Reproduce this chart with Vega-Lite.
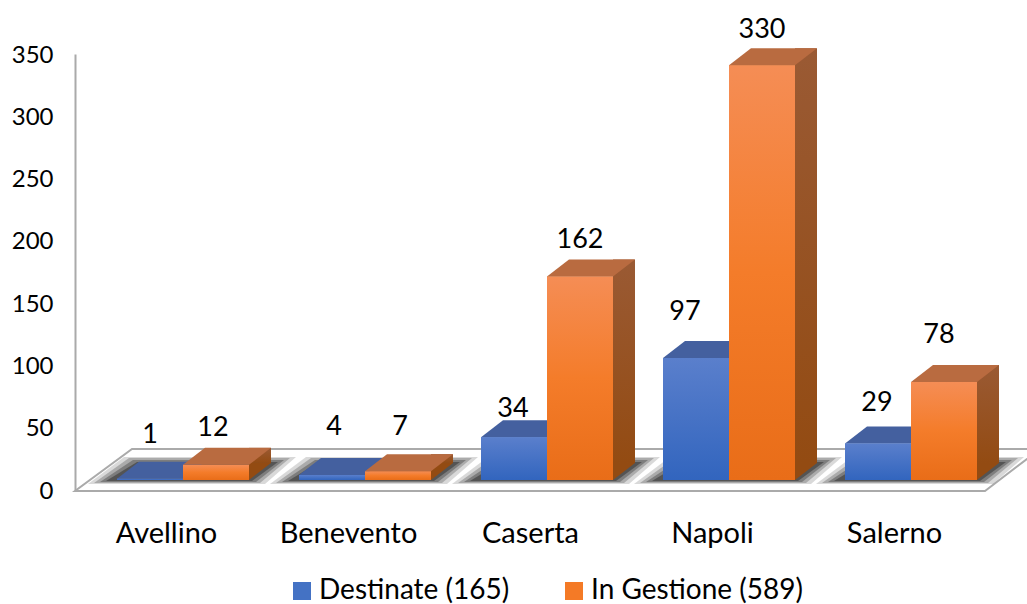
{"$schema":"https://vega.github.io/schema/vega-lite/v6.json","width":910,"height":436,"autosize":"none","padding":{"left":75,"top":54,"right":42,"bottom":114},"background":"white","config":{"view":{"stroke":null},"font":"Lato"},"data":{"values":[{"provincia":"Avellino","serie":"Destinate (165)","valore":1},{"provincia":"Avellino","serie":"In Gestione (589)","valore":12},{"provincia":"Benevento","serie":"Destinate (165)","valore":4},{"provincia":"Benevento","serie":"In Gestione (589)","valore":7},{"provincia":"Caserta","serie":"Destinate (165)","valore":34},{"provincia":"Caserta","serie":"In Gestione (589)","valore":162},{"provincia":"Napoli","serie":"Destinate (165)","valore":97},{"provincia":"Napoli","serie":"In Gestione (589)","valore":330},{"provincia":"Salerno","serie":"Destinate (165)","valore":29},{"provincia":"Salerno","serie":"In Gestione (589)","valore":78}]},"resolve":{"scale":{"x":"independent","y":"independent"},"axis":{"x":"independent","y":"independent"}},"layer":[{"encoding":{"x":{"field":"provincia","type":"nominal","title":null,"scale":{"domain":["Avellino","Benevento","Caserta","Napoli","Salerno"],"paddingInner":0,"paddingOuter":0},"axis":{"domain":false,"ticks":false,"labelAngle":0,"labelFontSize":29,"labelColor":"#000000","labelPadding":29,"labelFont":"Lato"}},"y":{"datum":0,"type":"quantitative","title":null,"scale":{"domain":[0,350],"nice":false,"zero":false},"axis":{"orient":"left","values":[0,50,100,150,200,250,300,350],"grid":false,"ticks":false,"domainColor":"#aaaaaa","domainWidth":2,"labelFontSize":24,"labelColor":"#000000","labelPadding":22,"labelOffset":1,"labelFont":"Lato"}}},"layer":[{"transform":[{"filter":"datum.provincia=='Caserta'&&datum.valore==34"}],"mark":{"type":"point","shape":"M-455,1 L455,1 L510,-41 L-398,-41 Z","size":4,"filled":true,"fill":"#ffffff","stroke":"#aaaaaa","strokeWidth":2,"opacity":1}},{"transform":[{"filter":"datum.serie=='In Gestione (589)'"}],"mark":{"type":"point","shape":"M-78,-6 L99,-6 L130,-33 L-42,-33 Z","size":4,"filled":true,"fill":"#666666","strokeWidth":0,"opacity":0.25}},{"transform":[{"filter":"datum.serie=='In Gestione (589)'"}],"mark":{"type":"point","shape":"M-72,-7 L94,-7 L124,-32 L-37,-32 Z","size":4,"filled":true,"fill":"#555555","strokeWidth":0,"opacity":0.35}},{"transform":[{"filter":"datum.serie=='In Gestione (589)'"}],"mark":{"type":"point","shape":"M-66,-8 L90,-8 L118,-30 L-33,-30 Z","size":4,"filled":true,"fill":"#444444","strokeWidth":0,"opacity":0.45}},{"transform":[{"filter":"datum.serie=='In Gestione (589)'"}],"mark":{"type":"point","shape":"M-60,-9 L86,-9 L112,-28 L-29,-28 Z","size":4,"filled":true,"fill":"#333333","strokeWidth":0,"opacity":0.55}}]},{"encoding":{"x":{"field":"provincia","type":"nominal","title":null,"axis":null,"scale":{"domain":["Avellino","Benevento","Caserta","Napoli","Salerno"],"paddingInner":0,"paddingOuter":0,"range":[17,927]}},"xOffset":{"field":"serie","type":"nominal","scale":{"paddingInner":0,"paddingOuter":0.379}},"y":{"field":"valore","type":"quantitative","title":null,"axis":null,"scale":{"domain":[-8,339],"nice":false,"zero":false}},"y2":{"datum":0}},"layer":[{"mark":{"type":"bar"},"encoding":{"color":{"field":"serie","type":"nominal","scale":{"domain":["Destinate (165)","In Gestione (589)"],"range":["#4472C4","#F47A26"]},"legend":{"orient":"none","legendX":213,"legendY":523,"direction":"horizontal","columns":2,"title":null,"symbolType":"square","symbolSize":324,"symbolStrokeWidth":0,"labelFontSize":28,"labelColor":"#000000","labelFont":"Lato","labelOffset":3,"columnPadding":50,"labelLimit":400,"symbolOpacity":1}}}},{"transform":[{"filter":"datum.serie=='Destinate (165)'"}],"mark":{"type":"point","shape":"M-33,0 L33,0 L55,-17 L-11,-17 Z","size":4,"filled":true,"fill":"#44609F","strokeWidth":0,"opacity":1},"encoding":{"y2":{"value":null}}}]},{"encoding":{"x":{"field":"provincia","type":"nominal","title":null,"axis":null,"scale":{"domain":["Avellino","Benevento","Caserta","Napoli","Salerno"],"paddingInner":0,"paddingOuter":0,"range":[94,1004]}},"y":{"field":"valore","type":"quantitative","title":null,"axis":null,"scale":{"domain":[-21.53,325.47],"nice":false,"zero":false}}},"transform":[{"filter":"datum.serie=='In Gestione (589)'"}],"layer":[{"mark":{"type":"bar","width":22,"color":{"gradient":"linear","x1":0,"y1":0,"x2":0,"y2":1,"stops":[{"offset":0,"color":"#9A5A34"},{"offset":1,"color":"#934B12"}]}},"encoding":{"y2":{"datum":0}}},{"mark":{"type":"point","shape":"M-11,17 L11,0 L-11,0 Z","size":4,"filled":true,"fill":"#934B12","strokeWidth":0,"opacity":1},"encoding":{"y":{"datum":0,"type":"quantitative"}}}]},{"encoding":{"x":{"field":"provincia","type":"nominal","title":null,"axis":null,"scale":{"domain":["Avellino","Benevento","Caserta","Napoli","Salerno"],"paddingInner":0,"paddingOuter":0,"range":[17,927]}},"xOffset":{"field":"serie","type":"nominal","scale":{"paddingInner":0,"paddingOuter":0.379}},"y":{"field":"valore","type":"quantitative","title":null,"axis":null,"scale":{"domain":[-8,339],"nice":false,"zero":false}}},"layer":[{"transform":[{"filter":"datum.serie=='Destinate (165)'"}],"mark":{"type":"bar","color":{"gradient":"linear","x1":0,"y1":0,"x2":0,"y2":1,"stops":[{"offset":0,"color":"#5A7FCC"},{"offset":1,"color":"#3265BE"}]}},"encoding":{"y2":{"datum":0}}},{"transform":[{"filter":"datum.serie=='In Gestione (589)'"}],"mark":{"type":"bar","color":{"gradient":"linear","x1":0,"y1":0,"x2":0,"y2":1,"stops":[{"offset":0,"color":"#F58D55"},{"offset":0.5,"color":"#F47C2A"},{"offset":1,"color":"#E96D18"}]}},"encoding":{"y2":{"datum":0}}},{"transform":[{"filter":"datum.serie=='In Gestione (589)'"}],"mark":{"type":"point","shape":"M-33,0 L33,0 L55,-17 L-11,-17 Z","size":4,"filled":true,"fill":"#B96B40","strokeWidth":0,"opacity":1}},{"transform":[{"filter":"datum.valore==1"}],"mark":{"type":"text","fontSize":27,"font":"Lato","color":"#000000","dx":0,"dy":-44},"encoding":{"text":{"field":"valore"}}},{"transform":[{"filter":"datum.valore==12"}],"mark":{"type":"text","fontSize":27,"font":"Lato","color":"#000000","dx":-3,"dy":-37},"encoding":{"text":{"field":"valore"}}},{"transform":[{"filter":"datum.valore==4"}],"mark":{"type":"text","fontSize":27,"font":"Lato","color":"#000000","dx":2,"dy":-48},"encoding":{"text":{"field":"valore"}}},{"transform":[{"filter":"datum.valore==7"}],"mark":{"type":"text","fontSize":27,"font":"Lato","color":"#000000","dx":2,"dy":-44},"encoding":{"text":{"field":"valore"}}},{"transform":[{"filter":"datum.valore==34"}],"mark":{"type":"text","fontSize":27,"font":"Lato","color":"#000000","dx":-1,"dy":-28},"encoding":{"text":{"field":"valore"}}},{"transform":[{"filter":"datum.valore==162"}],"mark":{"type":"text","fontSize":27,"font":"Lato","color":"#000000","dx":0,"dy":-36},"encoding":{"text":{"field":"valore"}}},{"transform":[{"filter":"datum.valore==97"}],"mark":{"type":"text","fontSize":27,"font":"Lato","color":"#000000","dx":-11,"dy":-46},"encoding":{"text":{"field":"valore"}}},{"transform":[{"filter":"datum.valore==330"}],"mark":{"type":"text","fontSize":27,"font":"Lato","color":"#000000","dx":0,"dy":-35},"encoding":{"text":{"field":"valore"}}},{"transform":[{"filter":"datum.valore==29"}],"mark":{"type":"text","fontSize":27,"font":"Lato","color":"#000000","dx":-1,"dy":-41},"encoding":{"text":{"field":"valore"}}},{"transform":[{"filter":"datum.valore==78"}],"mark":{"type":"text","fontSize":27,"font":"Lato","color":"#000000","dx":-5,"dy":-47},"encoding":{"text":{"field":"valore"}}}]}]}
